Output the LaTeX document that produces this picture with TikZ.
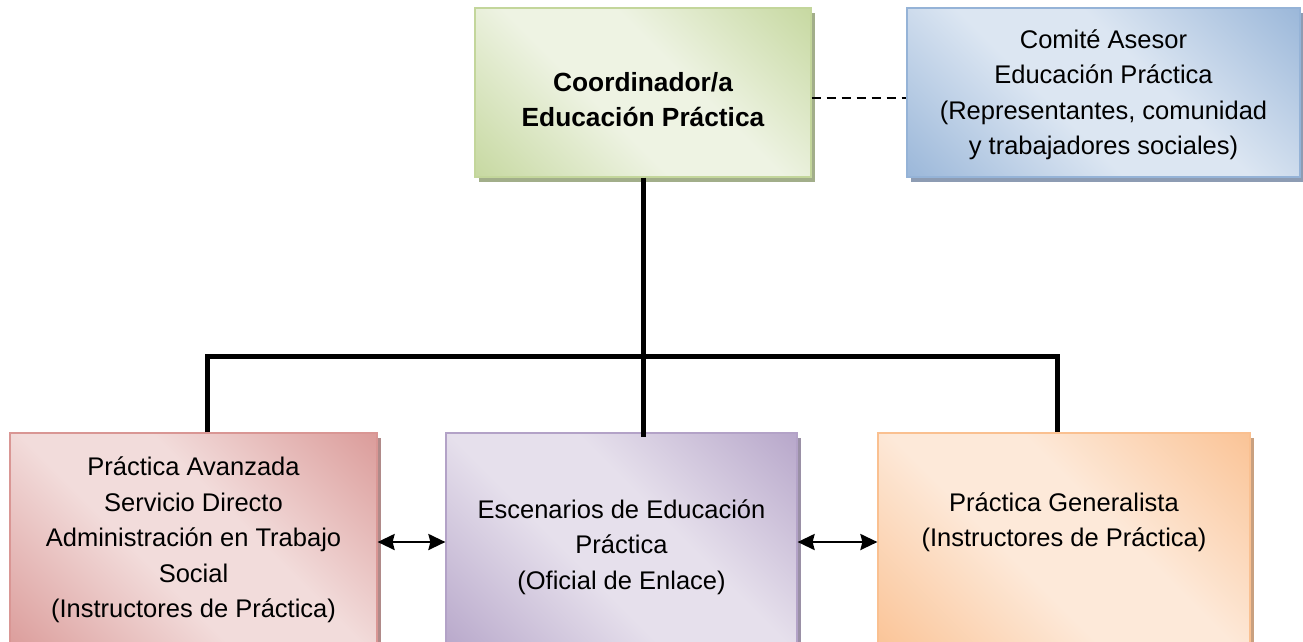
\documentclass[tikz,border=0pt]{standalone}
\usepackage{fontspec}
\setmainfont{Liberation Sans}
\usetikzlibrary{shadows,arrows.meta,calc}
\definecolor{gdark}{HTML}{C3D69B}\definecolor{glight}{HTML}{EEF3E3}\definecolor{gshadow}{HTML}{A2AE8A}
\definecolor{bdark}{HTML}{95B3D7}\definecolor{blight}{HTML}{DCE6F2}\definecolor{bshadow}{HTML}{8D9CB3}
\definecolor{rdark}{HTML}{D99694}\definecolor{rlight}{HTML}{F2DCDB}\definecolor{rshadow}{HTML}{B08A89}
\definecolor{pdark}{HTML}{B3A2C7}\definecolor{plight}{HTML}{E6E0EC}\definecolor{pshadow}{HTML}{9A90A6}
\definecolor{odark}{HTML}{FAC090}\definecolor{olight}{HTML}{FDE9D9}\definecolor{oshadow}{HTML}{C9A07F}
\pgfdeclarehorizontalshading{gshade}{100bp}{color(0bp)=(gdark); color(12bp)=(gdark); color(42bp)=(glight); color(58bp)=(glight); color(88bp)=(gdark); color(100bp)=(gdark)}
\pgfdeclarehorizontalshading{bshade}{100bp}{color(0bp)=(bdark); color(12bp)=(bdark); color(42bp)=(blight); color(58bp)=(blight); color(88bp)=(bdark); color(100bp)=(bdark)}
\pgfdeclarehorizontalshading{rshade}{100bp}{color(0bp)=(rdark); color(12bp)=(rdark); color(42bp)=(rlight); color(58bp)=(rlight); color(88bp)=(rdark); color(100bp)=(rdark)}
\pgfdeclarehorizontalshading{pshade}{100bp}{color(0bp)=(pdark); color(12bp)=(pdark); color(42bp)=(plight); color(58bp)=(plight); color(88bp)=(pdark); color(100bp)=(pdark)}
\pgfdeclarehorizontalshading{oshade}{100bp}{color(0bp)=(odark); color(12bp)=(odark); color(42bp)=(olight); color(58bp)=(olight); color(88bp)=(odark); color(100bp)=(odark)}
\begin{document}
\begin{tikzpicture}[x=1pt,y=-1pt,
  box/.style args={#1/#2}{draw=#1dark, line width=1.2pt, inner sep=0pt, shade, shading=#1shade, shading angle=45,
     drop shadow={shadow xshift=4pt, shadow yshift=-5pt, fill=#1shadow, opacity=1}, minimum height=#2},
  txt/.style={align=center, inner sep=0pt, font=\fontsize{25.5}{35.5}\selectfont},
  txtb/.style={align=center, inner sep=0pt, font=\fontsize{26.3}{35.5}\selectfont\bfseries},
  conn/.style={line width=5pt, black},
  biarrow/.style={line width=2.4pt, >={Stealth[length=17pt,width=16pt,inset=2pt]}, <->},
  dashline/.style={line width=1.8pt, dash pattern=on 9pt off 6pt}]
\useasboundingbox (0,0) rectangle (1303,641);
\clip (0,0) rectangle (1303,641);
% boxes
\node[box=g/169pt, minimum width=336pt] (coord) at (643,92.5) {};
\node[box=b/169pt, minimum width=393pt] (comite) at (1103.5,92.5) {};
\node[box=r/218pt, minimum width=367pt] (avanz) at (193.5,542) {};
\node[box=p/218pt, minimum width=351pt] (esc) at (621.5,542) {};
\node[box=o/218pt, minimum width=372pt] (gen) at (1064,542) {};
% texts
\node[txtb] (coordT) at (643,99.5) {Coordinador/a\\Educación Práctica};
\node[txt] (comiteT) at (1103.5,95) {Comité Asesor\\Educación Práctica\\(Representantes, comunidad\\y trabajadores sociales)};
\node[txt] (avanzT) at (193.5,540) {Práctica Avanzada\\Servicio Directo\\Administración en Trabajo\\Social\\(Instructores de Práctica)};
\node[txt] (escT) at (621.5,547) {Escenarios de Educación\\Práctica\\(Oficial de Enlace)};
\node[txt] (genT) at (1064,522) {Práctica Generalista\\(Instructores de Práctica)};
% connectors
\coordinate (busL) at (207,356);
\coordinate (busR) at (1057,356);
\draw[conn] (coord.south) -- (coord.south |- busL);
\draw[conn] (busL |- avanz.north) -- (busL) -- (busR) -- (busR |- gen.north);
\draw[conn] (coord.south |- busL) -- ([yshift=-5pt]coord.south |- esc.north);
\draw[dashline] ([yshift=-5.5pt]coord.east) -- ([yshift=-5.5pt]comite.west);
\draw[biarrow] (avanz.east) -- (esc.west);
\draw[biarrow] (esc.east) -- (gen.west);
\end{tikzpicture}
\end{document}
